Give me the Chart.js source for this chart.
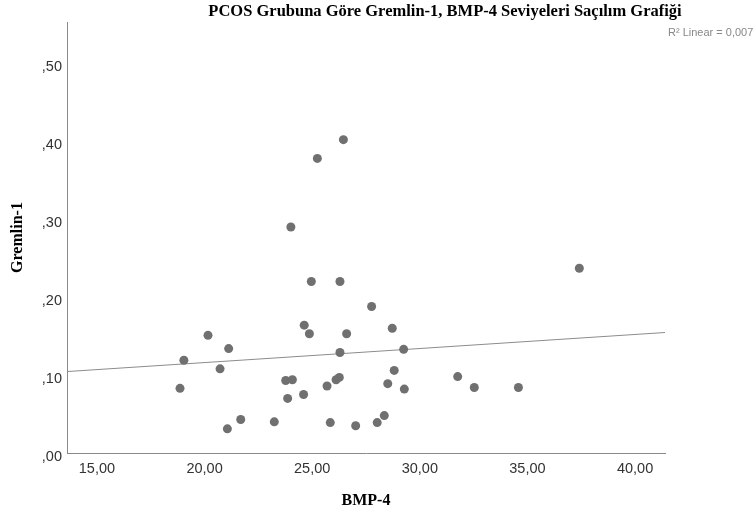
<!DOCTYPE html>
<html>
<head>
<meta charset="utf-8">
<script src="https://cdn.jsdelivr.net/npm/chart.js@4.4.1/dist/chart.umd.min.js"></script>
<style>
  html, body { margin: 0; padding: 0; background: #fff; overflow: hidden; }
  #wrap { position: relative; width: 755px; height: 515px; overflow: hidden; }
  #title {
    position: absolute; left: 195px; width: 500px; top: 1px;
    text-align: center; white-space: nowrap;
    font: bold 16.5px "Liberation Serif", serif; line-height: 20px; color: #000;
  }
  #rsq {
    position: absolute; left: 668px; top: 26px; white-space: nowrap;
    font: 11px "Liberation Sans", sans-serif; color: #888;
  }
</style>
</head>
<body>
<div id="wrap">
  <canvas id="chart" width="755" height="515"></canvas>
  <div id="title">PCOS Grubuna Göre Gremlin-1, BMP-4 Seviyeleri Saçılım Grafiği</div>
  <div id="rsq">R² Linear = 0,007</div>
</div>
<script>
  // values
  const bmp4 = [18.86, 19.04, 20.16, 21.12, 20.72, 21.06, 21.68, 23.24, 24.01, 23.77,
    24.08, 23.86, 24.60, 24.63, 24.87, 24.96, 25.69, 25.84, 26.11, 26.26,
    26.29, 26.29, 26.60, 27.02, 27.76, 28.02, 25.24, 26.45, 28.72, 29.25,
    28.81, 28.51, 29.28, 28.35, 31.76, 32.53, 34.58, 37.41];
  const gremlin1 = [0.088, 0.124, 0.156, 0.139, 0.113, 0.036, 0.048, 0.045, 0.295, 0.098,
    0.099, 0.075, 0.080, 0.169, 0.158, 0.225, 0.091, 0.044, 0.099, 0.102,
    0.134, 0.225, 0.158, 0.040, 0.193, 0.044, 0.383, 0.407, 0.165, 0.138,
    0.111, 0.094, 0.087, 0.053, 0.103, 0.089, 0.089, 0.242];
  // fit line end points
  const fitX = [13.61, 41.39];
  const fitY = [0.1095, 0.1596];
  const xTicks = [15, 20, 25, 30, 35, 40];
  const yTicks = [0, 0.1, 0.2, 0.3, 0.4, 0.5];

  const points = bmp4.map((x, i) => ({ x: x, y: gremlin1[i] }));
  const fit = fitX.map((x, i) => ({ x: x, y: fitY[i] }));

  const tickFont = { family: '"Liberation Sans", sans-serif', size: 14.5 };
  const titleFont = { family: '"Liberation Serif", serif', size: 16, weight: 'bold' };

  new Chart(document.getElementById('chart'), {
    type: 'scatter',
    data: {
      datasets: [{
        data: points,
        backgroundColor: '#707070',
        borderWidth: 0,
        pointRadius: 4.5,
        order: 0
      }, {
        data: fit,
        showLine: true,
        borderColor: '#8c8c8c',
        borderWidth: 1,
        pointRadius: 0,
        order: 1
      }]
    },
    options: {
      responsive: false,
      animation: false,
      layout: { padding: { top: 22, right: 90, left: 0, bottom: 0 } },
      plugins: {
        legend: { display: false },
        tooltip: { enabled: false }
      },
      scales: {
        x: {
          type: 'linear',
          min: 13.61,
          max: 41.39,
          afterBuildTicks: s => { s.ticks = xTicks.map(v => ({ value: v })); },
          afterFit: s => { s.height = 62; },
          grid: { display: false, drawTicks: false },
          border: { display: true, color: '#8a8a8a', width: 1 },
          ticks: {
            font: tickFont, color: '#333', padding: 7, maxRotation: 0,
            callback: v => v.toFixed(2).replace('.', ',')
          },
          title: { display: true, text: 'BMP-4', font: titleFont, color: '#000', padding: { top: 0, bottom: 5 } }
        },
        y: {
          min: 0.005,
          max: 0.558,
          afterBuildTicks: s => { s.ticks = yTicks.map(v => ({ value: v })); },
          afterFit: s => { s.width = 67; },
          grid: { display: false, drawTicks: false },
          border: { display: true, color: '#8a8a8a', width: 1 },
          ticks: {
            font: tickFont, color: '#333', padding: 5,
            callback: v => ',' + v.toFixed(2).split('.')[1]
          },
          title: { display: true, text: 'Gremlin-1', font: titleFont, color: '#000', padding: { top: 8, bottom: 0 } }
        }
      }
    }
  });
</script>
</body>
</html>
